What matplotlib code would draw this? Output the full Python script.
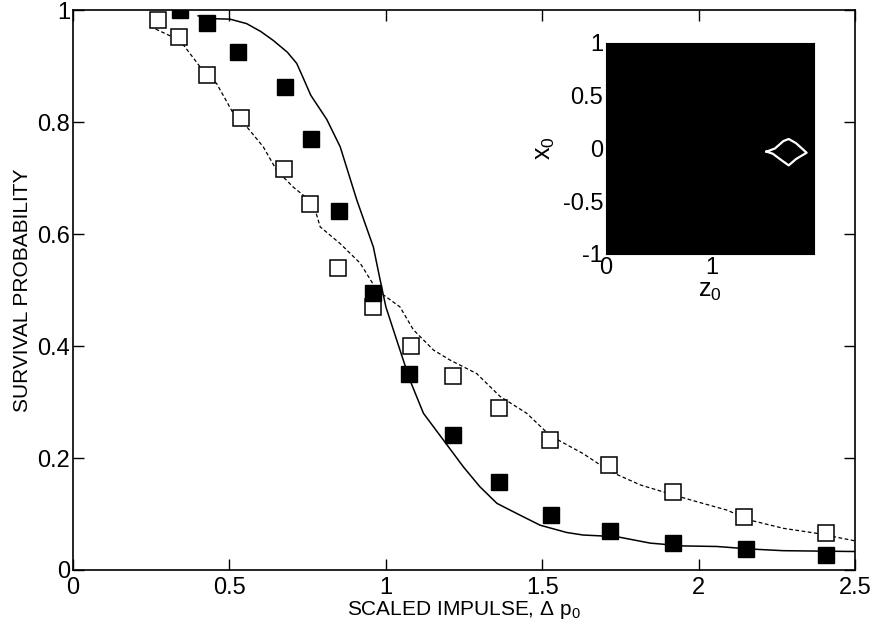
import matplotlib
matplotlib.use("Agg")
import matplotlib.pyplot as plt

# data
filled_x = [0.342, 0.428, 0.527, 0.678, 0.761, 0.850, 0.960, 1.075, 1.213, 1.363, 1.527, 1.717, 1.919, 2.150, 2.407]
filled_y = [1.000, 0.977, 0.925, 0.862, 0.770, 0.641, 0.495, 0.351, 0.242, 0.157, 0.098, 0.070, 0.048, 0.038, 0.027]

open_x = [0.271, 0.340, 0.427, 0.536, 0.675, 0.756, 0.848, 0.960, 1.080, 1.214, 1.362, 1.525, 1.714, 1.919, 2.144, 2.408]
open_y = [0.983, 0.952, 0.884, 0.808, 0.717, 0.654, 0.540, 0.469, 0.400, 0.347, 0.289, 0.232, 0.188, 0.140, 0.094, 0.066]

solid_x = [0.40, 0.438, 0.502, 0.555, 0.600, 0.640, 0.685, 0.715, 0.735, 0.760, 0.811, 0.854, 0.907, 0.960, 0.981, 1.0,
           1.045, 1.077, 1.12, 1.184, 1.248, 1.30, 1.355, 1.418, 1.493, 1.578, 1.63, 1.738, 1.845, 1.95, 2.058, 2.164,
           2.27, 2.50]
solid_y = [0.99, 0.985, 0.984, 0.976, 0.962, 0.946, 0.925, 0.905, 0.880, 0.848, 0.805, 0.756, 0.661, 0.577, 0.52, 0.47,
           0.393, 0.339, 0.28, 0.232, 0.184, 0.149, 0.119, 0.101, 0.080, 0.067, 0.0625, 0.0595, 0.048, 0.043, 0.042,
           0.0375, 0.0345, 0.033]

dash_x = [0.246, 0.342, 0.406, 0.459, 0.513, 0.555, 0.608, 0.651, 0.704, 0.768, 0.790, 0.854, 0.918, 0.971, 1.045,
          1.088, 1.152, 1.205, 1.29, 1.365, 1.45, 1.525, 1.63, 1.717, 1.813, 1.919, 1.994, 2.09, 2.164, 2.271, 2.377, 2.50]
dash_y = [0.971, 0.946, 0.899, 0.869, 0.815, 0.792, 0.756, 0.714, 0.684, 0.655, 0.613, 0.583, 0.548, 0.50, 0.470,
          0.429, 0.393, 0.375, 0.351, 0.31, 0.28, 0.24, 0.208, 0.176, 0.152, 0.134, 0.122, 0.107, 0.089, 0.0744, 0.0655, 0.052]

# inset: white closed curve on black
loop_z = [1.52, 1.60, 1.68, 1.73, 1.80, 1.90, 1.80, 1.73, 1.66, 1.58, 1.52]
loop_x = [-0.03, 0.0, 0.07, 0.09, 0.05, -0.04, -0.10, -0.16, -0.11, -0.05, -0.03]

plt.rcParams['font.family'] = ['Liberation Sans', 'DejaVu Sans']
plt.rcParams['mathtext.default'] = 'regular'

fig = plt.figure(figsize=(8.75, 6.29), dpi=100)
ax = fig.add_axes([0.0834, 0.0938, 0.894, 0.890])

ax.plot(solid_x, solid_y, '-', color='black', lw=1.1)
ax.plot(dash_x, dash_y, '--', color='black', lw=0.9, dashes=(3, 2))
ax.plot(open_x, open_y, 's', ms=11, mfc='white', mec='black', mew=1.1, ls='none')
ax.plot(filled_x, filled_y, 's', ms=11, mfc='black', mec='black', ls='none')

ax.set_xlim(0, 2.5)
ax.set_ylim(0, 1)
ax.set_xticks([0, 0.5, 1, 1.5, 2, 2.5])
ax.set_xticklabels(['0', '0.5', '1', '1.5', '2', '2.5'])
ax.set_yticks([0, 0.2, 0.4, 0.6, 0.8, 1])
ax.set_yticklabels(['0', '0.2', '0.4', '0.6', '0.8', '1'])
ax.tick_params(direction='in', length=8, width=1, top=True, right=True, labelsize=17)
ax.tick_params(axis='y', pad=2)
ax.tick_params(axis='x', pad=5)
for s in ax.spines.values():
    s.set_linewidth(1.2)
ax.set_xlabel(r'SCALED IMPULSE, $\Delta$ p$_0$', fontsize=15, labelpad=0)
ax.set_ylabel('SURVIVAL PROBABILITY', fontsize=15, labelpad=4)

ins = fig.add_axes([0.6926, 0.5962, 0.2377, 0.3355])
ins.set_facecolor('black')
ins.plot(loop_z, loop_x, '-', color='white', lw=1.6)
ins.set_xlim(0, 1.97)
ins.set_ylim(-1, 1)
ins.set_xticks([0, 1])
ins.set_xticklabels(['0', '1'])
ins.set_yticks([-1, -0.5, 0, 0.5, 1])
ins.set_yticklabels(['-1', '-0.5', '0', '0.5', '1'])
ins.tick_params(direction='in', length=0, labelsize=17, pad=2)
ins.set_xlabel('$z_0$', fontsize=18, labelpad=0)
ins.set_ylabel('$x_0$', fontsize=18, labelpad=4)

fig.savefig('out.png', dpi=100)
